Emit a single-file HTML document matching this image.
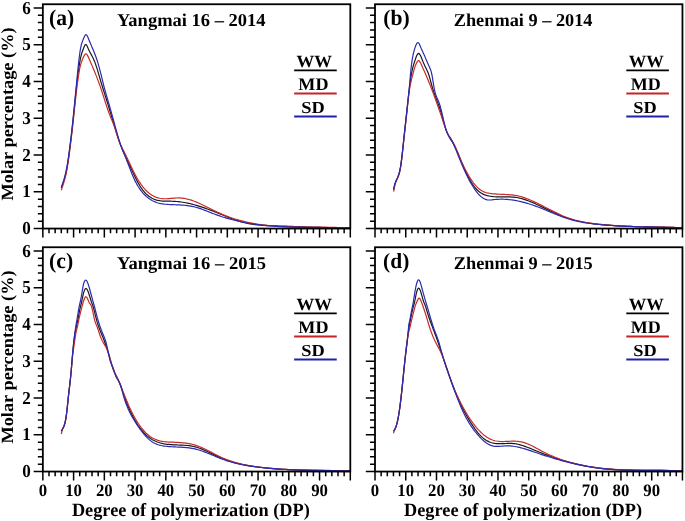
<!DOCTYPE html>
<html><head><meta charset="utf-8"><style>
html,body{margin:0;padding:0;background:#fff;}
svg{display:block;will-change:transform;}
text{font-family:"Liberation Serif", serif;font-weight:bold;fill:#000;text-rendering:geometricPrecision;}
</style></head><body>
<svg width="685" height="521" viewBox="0 0 685 521">
<rect width="685" height="521" fill="#fff"/>
<g><path d="M61.30,188.02 62.07,185.90 62.83,183.79 63.60,181.57 64.37,179.14 65.14,176.40 65.91,173.24 66.68,169.57 67.45,165.27 68.21,160.30 68.98,154.77 69.75,148.86 70.52,142.73 71.29,136.48 72.06,129.91 72.83,122.81 73.59,115.32 74.36,107.62 75.13,99.91 75.90,92.38 76.67,85.24 77.44,78.65 78.21,72.62 78.98,67.15 79.74,62.29 80.51,58.22 81.28,55.02 82.05,52.45 82.82,50.27 83.59,48.21 84.36,46.29 85.12,44.88 85.89,44.42 86.66,45.16 87.43,46.72 88.20,48.55 88.97,50.25 89.74,51.80 90.50,53.25 91.27,54.66 92.04,56.08 92.81,57.57 93.58,59.16 94.35,60.92 95.12,62.90 95.89,65.08 96.65,67.43 97.42,69.91 98.19,72.49 98.96,75.13 99.73,77.78 100.50,80.42 101.27,83.00 102.03,85.53 102.80,88.02 103.57,90.47 104.34,92.91 105.11,95.34 105.88,97.77 106.65,100.20 107.41,102.66 108.18,105.16 108.95,107.69 109.72,110.25 110.49,112.84 111.26,115.44 112.03,118.04 112.79,120.65 113.56,123.24 114.33,125.81 115.10,128.35 115.87,130.86 116.64,133.31 117.41,135.72 118.18,138.05 118.94,140.32 119.71,142.50 120.48,144.60 121.25,146.61 122.02,148.55 122.79,150.42 123.56,152.22 124.32,153.98 125.09,155.69 125.86,157.37 126.63,159.01 127.40,160.64 128.17,162.25 128.94,163.86 129.70,165.48 130.47,167.11 131.24,168.75 132.01,170.39 132.78,172.04 133.55,173.68 134.32,175.30 135.09,176.90 136.62,179.99 138.16,182.90 139.70,185.57 141.23,187.96 142.77,190.09 144.31,191.97 145.85,193.62 147.38,195.06 148.92,196.30 150.46,197.35 151.99,198.24 153.53,198.97 155.07,199.58 156.61,200.06 158.14,200.43 159.68,200.71 161.22,200.92 162.76,201.05 164.29,201.13 165.83,201.18 167.37,201.19 168.90,201.20 170.44,201.21 171.98,201.23 173.52,201.29 175.05,201.37 176.59,201.49 178.13,201.63 179.67,201.80 181.20,202.01 182.74,202.24 184.28,202.49 185.81,202.77 187.35,203.08 188.89,203.41 190.43,203.76 191.96,204.14 193.50,204.54 195.04,204.96 196.57,205.39 198.11,205.85 199.65,206.33 201.19,206.82 202.72,207.33 204.26,207.85 205.80,208.39 207.34,208.95 208.87,209.51 210.41,210.09 211.95,210.68 213.48,211.28 215.02,211.89 216.56,212.51 218.10,213.14 219.63,213.77 221.17,214.40 222.71,215.03 224.25,215.66 225.78,216.29 227.32,216.91 230.39,218.12 233.47,219.27 236.54,220.36 239.62,221.35 242.69,222.25 245.77,223.02 248.84,223.66 251.92,224.18 254.99,224.61 258.06,224.94 261.14,225.20 264.21,225.39 267.29,225.55 270.36,225.67 273.44,225.77 276.51,225.88 279.59,225.98 282.66,226.10 285.74,226.21 288.81,226.33 291.88,226.45 294.96,226.57 298.03,226.69 301.11,226.80 304.18,226.92 307.26,227.04 310.33,227.15 313.41,227.26 316.48,227.36 319.56,227.46 322.63,227.55 325.70,227.63 328.78,227.70 331.85,227.77 334.93,227.82 338.00,227.87 341.08,227.90 344.15,227.92 347.23,227.93 350.30,227.92" fill="none" stroke="#1a1a1a" stroke-width="1.2" stroke-linejoin="round"/>
<path d="M61.30,190.23 62.07,187.91 62.83,185.60 63.60,183.20 64.37,180.61 65.14,177.75 65.91,174.51 66.68,170.80 67.45,166.53 68.21,161.65 68.98,156.22 69.75,150.39 70.52,144.27 71.29,137.95 72.06,131.38 72.83,124.50 73.59,117.42 74.36,110.25 75.13,103.13 75.90,96.18 76.67,89.53 77.44,83.31 78.21,77.64 78.98,72.66 79.74,68.48 80.51,65.19 81.28,62.59 82.05,60.47 82.82,58.59 83.59,56.82 84.36,55.29 85.12,54.20 85.89,53.78 86.66,54.19 87.43,55.30 88.20,56.86 88.97,58.58 89.74,60.33 90.50,62.08 91.27,63.84 92.04,65.62 92.81,67.42 93.58,69.25 94.35,71.10 95.12,72.98 95.89,74.90 96.65,76.85 97.42,78.85 98.19,80.89 98.96,82.98 99.73,85.13 100.50,87.34 101.27,89.60 102.03,91.93 102.80,94.29 103.57,96.69 104.34,99.09 105.11,101.49 105.88,103.87 106.65,106.21 107.41,108.50 108.18,110.72 108.95,112.86 109.72,114.90 110.49,116.83 111.26,118.67 112.03,120.47 112.79,122.30 113.56,124.21 114.33,126.27 115.10,128.52 115.87,130.97 116.64,133.52 117.41,136.09 118.18,138.60 118.94,140.93 119.71,143.01 120.48,144.78 121.25,146.30 122.02,147.72 122.79,149.16 123.56,150.65 124.32,152.17 125.09,153.73 125.86,155.32 126.63,156.93 127.40,158.55 128.17,160.19 128.94,161.83 129.70,163.48 130.47,165.12 131.24,166.75 132.01,168.36 132.78,169.95 133.55,171.51 134.32,173.04 135.09,174.54 136.62,177.38 138.16,180.02 139.70,182.45 141.23,184.68 142.77,186.71 144.31,188.55 145.85,190.22 147.38,191.71 148.92,193.04 150.46,194.20 151.99,195.22 153.53,196.09 155.07,196.82 156.61,197.42 158.14,197.90 159.68,198.26 161.22,198.52 162.76,198.67 164.29,198.74 165.83,198.74 167.37,198.68 168.90,198.58 170.44,198.46 171.98,198.32 173.52,198.19 175.05,198.07 176.59,197.98 178.13,197.94 179.67,197.96 181.20,198.05 182.74,198.21 184.28,198.43 185.81,198.72 187.35,199.07 188.89,199.47 190.43,199.92 191.96,200.42 193.50,200.97 195.04,201.55 196.57,202.17 198.11,202.82 199.65,203.50 201.19,204.21 202.72,204.93 204.26,205.67 205.80,206.43 207.34,207.19 208.87,207.96 210.41,208.73 211.95,209.50 213.48,210.26 215.02,211.01 216.56,211.75 218.10,212.47 219.63,213.17 221.17,213.85 222.71,214.51 224.25,215.14 225.78,215.75 227.32,216.34 230.39,217.45 233.47,218.49 236.54,219.45 239.62,220.33 242.69,221.14 245.77,221.89 248.84,222.56 251.92,223.18 254.99,223.74 258.06,224.24 261.14,224.68 264.21,225.08 267.29,225.43 270.36,225.73 273.44,226.00 276.51,226.23 279.59,226.42 282.66,226.58 285.74,226.71 288.81,226.81 291.88,226.90 294.96,226.96 298.03,227.01 301.11,227.04 304.18,227.06 307.26,227.08 310.33,227.09 313.41,227.10 316.48,227.12 319.56,227.13 322.63,227.16 325.70,227.20 328.78,227.25 331.85,227.32 334.93,227.41 338.00,227.52 341.08,227.66 344.15,227.82 347.23,228.02 350.30,228.26" fill="none" stroke="#c82a2a" stroke-width="1.2" stroke-linejoin="round"/>
<path d="M61.30,187.18 62.07,185.10 62.83,182.92 63.60,180.57 64.37,177.96 65.14,175.04 65.91,171.72 66.68,167.94 67.45,163.62 68.21,158.72 68.98,153.30 69.75,147.47 70.52,141.31 71.29,134.90 72.06,128.17 72.83,121.06 73.59,113.63 74.36,105.94 75.13,98.07 75.90,90.10 76.67,82.09 77.44,74.15 78.21,66.54 78.98,59.56 79.74,53.48 80.51,48.60 81.28,45.03 82.05,42.43 82.82,40.39 83.59,38.50 84.36,36.67 85.12,35.24 85.89,34.61 86.66,35.02 87.43,36.27 88.20,38.02 88.97,39.92 89.74,41.77 90.50,43.58 91.27,45.38 92.04,47.17 92.81,48.98 93.58,50.83 94.35,52.74 95.12,54.73 95.89,56.82 96.65,59.02 97.42,61.36 98.19,63.87 98.96,66.55 99.73,69.40 100.50,72.39 101.27,75.46 102.03,78.59 102.80,81.71 103.57,84.79 104.34,87.79 105.11,90.66 105.88,93.43 106.65,96.12 107.41,98.76 108.18,101.38 108.95,104.02 109.72,106.69 110.49,109.39 111.26,112.12 112.03,114.88 112.79,117.66 113.56,120.46 114.33,123.26 115.10,126.06 115.87,128.86 116.64,131.64 117.41,134.39 118.18,137.07 118.94,139.68 119.71,142.18 120.48,144.56 121.25,146.80 122.02,148.86 122.79,150.76 123.56,152.54 124.32,154.30 125.09,156.13 125.86,158.03 126.63,159.98 127.40,161.97 128.17,163.99 128.94,166.02 129.70,168.04 130.47,170.05 131.24,172.02 132.01,173.95 132.78,175.81 133.55,177.59 134.32,179.28 135.09,180.89 136.62,183.84 138.16,186.48 139.70,188.83 141.23,190.93 142.77,192.81 144.31,194.49 145.85,196.00 147.38,197.34 148.92,198.52 150.46,199.57 151.99,200.47 153.53,201.26 155.07,201.93 156.61,202.49 158.14,202.96 159.68,203.35 161.22,203.66 162.76,203.91 164.29,204.11 165.83,204.26 167.37,204.38 168.90,204.48 170.44,204.56 171.98,204.63 173.52,204.70 175.05,204.76 176.59,204.82 178.13,204.89 179.67,204.96 181.20,205.05 182.74,205.15 184.28,205.27 185.81,205.42 187.35,205.60 188.89,205.80 190.43,206.05 191.96,206.33 193.50,206.66 195.04,207.03 196.57,207.45 198.11,207.91 199.65,208.41 201.19,208.94 202.72,209.49 204.26,210.07 205.80,210.66 207.34,211.27 208.87,211.88 210.41,212.49 211.95,213.10 213.48,213.70 215.02,214.29 216.56,214.86 218.10,215.41 219.63,215.94 221.17,216.46 222.71,216.96 224.25,217.45 225.78,217.92 227.32,218.37 230.39,219.24 233.47,220.04 236.54,220.79 239.62,221.48 242.69,222.13 245.77,222.72 248.84,223.26 251.92,223.76 254.99,224.21 258.06,224.63 261.14,225.00 264.21,225.33 267.29,225.63 270.36,225.90 273.44,226.14 276.51,226.35 279.59,226.53 282.66,226.68 285.74,226.82 288.81,226.93 291.88,227.03 294.96,227.11 298.03,227.18 301.11,227.23 304.18,227.28 307.26,227.32 310.33,227.35 313.41,227.39 316.48,227.42 319.56,227.45 322.63,227.48 325.70,227.52 328.78,227.57 331.85,227.63 334.93,227.70 338.00,227.79 341.08,227.89 344.15,228.01 347.23,228.15 350.30,228.32" fill="none" stroke="#2a2ab4" stroke-width="1.2" stroke-linejoin="round"/>
<rect x="42.85" y="4.25" width="307.45" height="224.30" fill="none" stroke="#000" stroke-width="1.8"/>
<path d="M33.65,228.55H42.85M37.85,221.20H42.85M37.85,213.84H42.85M37.85,206.49H42.85M37.85,199.13H42.85M33.65,191.78H42.85M37.85,184.42H42.85M37.85,177.06H42.85M37.85,169.71H42.85M37.85,162.36H42.85M33.65,155.00H42.85M37.85,147.65H42.85M37.85,140.29H42.85M37.85,132.94H42.85M37.85,125.58H42.85M33.65,118.23H42.85M37.85,110.87H42.85M37.85,103.52H42.85M37.85,96.16H42.85M37.85,88.81H42.85M33.65,81.45H42.85M37.85,74.09H42.85M37.85,66.74H42.85M37.85,59.38H42.85M37.85,52.03H42.85M33.65,44.68H42.85M37.85,37.32H42.85M37.85,29.97H42.85M37.85,22.61H42.85M37.85,15.25H42.85M33.65,7.90H42.85M42.85,228.55V237.55M49.00,228.55V233.15M55.15,228.55V233.15M61.30,228.55V233.15M67.45,228.55V233.15M73.59,228.55V237.55M79.74,228.55V233.15M85.89,228.55V233.15M92.04,228.55V233.15M98.19,228.55V233.15M104.34,228.55V237.55M110.49,228.55V233.15M116.64,228.55V233.15M122.79,228.55V233.15M128.94,228.55V233.15M135.09,228.55V237.55M141.23,228.55V233.15M147.38,228.55V233.15M153.53,228.55V233.15M159.68,228.55V233.15M165.83,228.55V237.55M171.98,228.55V233.15M178.13,228.55V233.15M184.28,228.55V233.15M190.43,228.55V233.15M196.57,228.55V237.55M202.72,228.55V233.15M208.87,228.55V233.15M215.02,228.55V233.15M221.17,228.55V233.15M227.32,228.55V237.55M233.47,228.55V233.15M239.62,228.55V233.15M245.77,228.55V233.15M251.92,228.55V233.15M258.06,228.55V237.55M264.21,228.55V233.15M270.36,228.55V233.15M276.51,228.55V233.15M282.66,228.55V233.15M288.81,228.55V237.55M294.96,228.55V233.15M301.11,228.55V233.15M307.26,228.55V233.15M313.41,228.55V233.15M319.56,228.55V237.55M325.70,228.55V233.15M331.85,228.55V233.15M338.00,228.55V233.15M344.15,228.55V233.15M350.30,228.55V237.55" stroke="#000" stroke-width="1.5" fill="none"/>
<path d="M294.15,70.40H336.75" stroke="#000000" stroke-width="1.9"/>
<path d="M294.15,93.50H336.75" stroke="#c42424" stroke-width="1.9"/>
<path d="M294.15,116.50H336.75" stroke="#2020a8" stroke-width="1.9"/></g>
<g><path d="M393.60,189.54 394.37,186.03 395.14,183.37 395.91,181.31 396.68,179.58 397.44,177.94 398.21,176.10 398.98,173.83 399.75,170.86 400.52,166.92 401.29,161.79 402.06,155.59 402.82,148.66 403.59,141.37 404.36,134.08 405.13,126.89 405.90,119.77 406.67,112.65 407.44,105.51 408.20,98.50 408.97,91.78 409.74,85.52 410.51,79.88 411.28,74.94 412.05,70.80 412.82,67.53 413.58,64.95 414.35,62.52 415.12,60.08 415.89,57.80 416.66,55.84 417.43,54.36 418.20,53.52 418.97,53.47 419.73,54.22 420.50,55.56 421.27,57.31 422.04,59.26 422.81,61.21 423.58,63.04 424.35,64.75 425.11,66.38 425.88,67.95 426.65,69.52 427.42,71.17 428.19,73.04 428.96,75.24 429.73,77.79 430.49,80.59 431.26,83.49 432.03,86.35 432.80,89.03 433.57,91.48 434.34,93.75 435.11,95.87 435.88,97.90 436.64,99.88 437.41,101.86 438.18,103.87 438.95,105.97 439.72,108.19 440.49,110.59 441.26,113.19 442.02,115.93 442.79,118.75 443.56,121.58 444.33,124.33 445.10,126.94 445.87,129.33 446.64,131.45 447.40,133.33 448.17,135.00 448.94,136.50 449.71,137.87 450.48,139.14 451.25,140.35 452.02,141.54 452.78,142.75 453.55,144.01 454.32,145.36 455.09,146.83 455.86,148.43 456.63,150.13 457.40,151.91 458.17,153.75 458.93,155.64 459.70,157.56 460.47,159.48 461.24,161.39 462.01,163.26 462.78,165.10 463.55,166.90 464.31,168.66 465.08,170.37 465.85,172.03 466.62,173.64 467.24,174.90 468.77,177.89 470.31,180.66 471.85,183.20 473.38,185.48 474.92,187.49 476.46,189.23 478.00,190.72 479.53,191.98 481.07,193.03 482.61,193.89 484.14,194.59 485.68,195.15 487.22,195.60 488.76,195.95 490.29,196.22 491.83,196.44 493.37,196.61 494.91,196.73 496.44,196.81 497.98,196.87 499.52,196.89 501.05,196.90 502.59,196.90 504.13,196.90 505.67,196.90 507.20,196.90 508.74,196.93 510.28,196.97 511.82,197.05 513.35,197.16 514.89,197.31 516.43,197.52 517.96,197.78 519.50,198.09 521.04,198.46 522.58,198.88 524.11,199.34 525.65,199.85 527.19,200.39 528.73,200.97 530.26,201.58 531.80,202.22 533.34,202.88 534.87,203.56 536.41,204.26 537.95,204.97 539.49,205.70 541.02,206.43 542.56,207.16 544.10,207.90 545.63,208.64 547.17,209.37 548.71,210.11 550.25,210.84 551.78,211.56 553.32,212.27 554.86,212.97 556.40,213.66 557.93,214.33 559.47,214.99 562.54,216.24 565.62,217.40 568.69,218.45 571.77,219.40 574.84,220.24 577.92,221.00 580.99,221.67 584.07,222.27 587.14,222.80 590.22,223.27 593.29,223.69 596.36,224.06 599.44,224.39 602.51,224.69 605.59,224.97 608.66,225.22 611.74,225.45 614.81,225.65 617.89,225.84 620.96,226.00 624.03,226.15 627.11,226.28 630.18,226.40 633.26,226.50 636.33,226.59 639.41,226.68 642.48,226.75 645.56,226.82 648.63,226.88 651.70,226.94 654.78,227.00 657.85,227.06 660.93,227.12 664.00,227.19 667.08,227.25 670.15,227.33 673.23,227.41 676.30,227.50 679.38,227.60 682.45,227.72" fill="none" stroke="#1a1a1a" stroke-width="1.2" stroke-linejoin="round"/>
<path d="M393.60,191.54 394.37,187.27 395.14,184.14 395.91,181.82 396.68,180.03 397.44,178.43 398.21,176.73 398.98,174.61 399.75,171.77 400.52,167.88 401.29,162.68 402.06,156.32 402.82,149.27 403.59,141.98 404.36,134.89 405.13,128.07 405.90,121.28 406.67,114.27 407.44,106.94 408.20,99.71 408.97,93.18 409.74,87.93 410.51,84.00 411.28,80.36 412.05,77.19 412.82,74.55 413.58,71.61 414.35,68.62 415.12,66.34 415.89,64.53 416.66,62.87 417.43,61.51 418.20,60.70 418.97,60.68 419.73,61.47 420.50,62.83 421.27,64.49 422.04,66.21 422.81,67.92 423.58,69.64 424.35,71.36 425.11,73.10 425.88,74.86 426.65,76.64 427.42,78.47 428.19,80.32 428.96,82.21 429.73,84.13 430.49,86.08 431.26,88.05 432.03,90.06 432.80,92.09 433.57,94.15 434.34,96.23 435.11,98.34 435.88,100.46 436.64,102.61 437.41,104.79 438.18,106.98 438.95,109.19 439.72,111.41 440.49,113.66 441.26,115.92 442.02,118.19 442.79,120.48 443.56,122.78 444.33,125.08 445.10,127.35 445.87,129.52 446.64,131.55 447.40,133.39 448.17,134.98 448.94,136.30 449.71,137.44 450.48,138.47 451.25,139.49 452.02,140.58 452.78,141.84 453.55,143.24 454.32,144.78 455.09,146.43 455.86,148.16 456.63,149.97 457.40,151.81 458.17,153.68 458.93,155.54 459.70,157.38 460.47,159.18 461.24,160.94 462.01,162.65 462.78,164.32 463.55,165.95 464.31,167.54 465.08,169.08 465.85,170.57 466.62,172.02 467.24,173.15 468.77,175.84 470.31,178.34 471.85,180.65 473.38,182.77 474.92,184.69 476.46,186.41 478.00,187.93 479.53,189.24 481.07,190.35 482.61,191.24 484.14,191.93 485.68,192.47 487.22,192.88 488.76,193.20 490.29,193.45 491.83,193.66 493.37,193.83 494.91,193.97 496.44,194.08 497.98,194.17 499.52,194.25 501.05,194.31 502.59,194.37 504.13,194.43 505.67,194.49 507.20,194.57 508.74,194.66 510.28,194.78 511.82,194.93 513.35,195.11 514.89,195.33 516.43,195.59 517.96,195.91 519.50,196.28 521.04,196.69 522.58,197.15 524.11,197.65 525.65,198.19 527.19,198.77 528.73,199.38 530.26,200.02 531.80,200.68 533.34,201.38 534.87,202.09 536.41,202.82 537.95,203.58 539.49,204.34 541.02,205.11 542.56,205.90 544.10,206.68 545.63,207.47 547.17,208.27 548.71,209.06 550.25,209.85 551.78,210.63 553.32,211.40 554.86,212.16 556.40,212.91 557.93,213.64 559.47,214.35 562.54,215.71 565.62,216.97 568.69,218.11 571.77,219.12 574.84,220.03 577.92,220.84 580.99,221.55 584.07,222.17 587.14,222.72 590.22,223.21 593.29,223.63 596.36,224.01 599.44,224.35 602.51,224.66 605.59,224.94 608.66,225.19 611.74,225.42 614.81,225.63 617.89,225.81 620.96,225.98 624.03,226.13 627.11,226.26 630.18,226.38 633.26,226.48 636.33,226.58 639.41,226.66 642.48,226.74 645.56,226.80 648.63,226.87 651.70,226.93 654.78,226.99 657.85,227.05 660.93,227.11 664.00,227.18 667.08,227.25 670.15,227.32 673.23,227.41 676.30,227.50 679.38,227.61 682.45,227.73" fill="none" stroke="#c82a2a" stroke-width="1.2" stroke-linejoin="round"/>
<path d="M393.60,189.59 394.37,185.98 395.14,183.28 395.91,181.21 396.68,179.52 397.44,177.91 398.21,176.13 398.98,173.90 399.75,170.95 400.52,167.00 401.29,161.83 402.06,155.55 402.82,148.56 403.59,141.25 404.36,134.01 405.13,126.92 405.90,119.88 406.67,112.78 407.44,105.56 408.20,98.45 408.97,91.26 409.74,82.87 410.51,73.97 411.28,66.42 412.05,60.58 412.82,56.13 413.58,52.69 414.35,49.88 415.12,47.39 415.89,45.28 416.66,43.68 417.43,42.73 418.20,42.58 418.97,43.35 419.73,44.90 420.50,46.79 421.27,48.61 422.04,50.33 422.81,51.99 423.58,53.65 424.35,55.36 425.11,57.12 425.88,58.90 426.65,60.70 427.42,62.49 428.19,64.27 428.96,66.03 429.73,67.73 430.49,69.54 431.26,71.88 432.03,75.25 432.80,79.80 433.57,84.74 434.34,89.14 435.11,92.49 435.88,95.02 436.64,97.02 437.41,98.76 438.18,100.54 438.95,102.53 439.72,104.78 440.49,107.30 441.26,110.13 442.02,113.27 442.79,116.61 443.56,120.01 444.33,123.31 445.10,126.39 445.87,129.10 446.64,131.31 447.40,133.07 448.17,134.51 448.94,135.75 449.71,136.90 450.48,138.10 451.25,139.43 452.02,140.89 452.78,142.47 453.55,144.15 454.32,145.92 455.09,147.75 455.86,149.63 456.63,151.54 457.40,153.48 458.17,155.42 458.93,157.34 459.70,159.24 460.47,161.12 461.24,162.96 462.01,164.77 462.78,166.55 463.55,168.30 464.31,170.02 465.08,171.70 465.85,173.34 466.62,174.95 467.24,176.20 468.77,179.23 470.31,182.10 471.85,184.78 473.38,187.29 474.92,189.59 476.46,191.69 478.00,193.57 479.53,195.23 481.07,196.65 482.61,197.84 484.14,198.76 485.68,199.43 487.22,199.83 488.76,199.99 490.29,199.98 491.83,199.86 493.37,199.68 494.91,199.52 496.44,199.39 497.98,199.29 499.52,199.24 501.05,199.21 502.59,199.22 504.13,199.27 505.67,199.34 507.20,199.45 508.74,199.59 510.28,199.75 511.82,199.95 513.35,200.17 514.89,200.42 516.43,200.70 517.96,201.00 519.50,201.33 521.04,201.68 522.58,202.06 524.11,202.45 525.65,202.88 527.19,203.32 528.73,203.78 530.26,204.27 531.80,204.77 533.34,205.29 534.87,205.83 536.41,206.39 537.95,206.97 539.49,207.56 541.02,208.16 542.56,208.78 544.10,209.41 545.63,210.05 547.17,210.70 548.71,211.34 550.25,211.99 551.78,212.64 553.32,213.28 554.86,213.92 556.40,214.55 557.93,215.16 559.47,215.77 562.54,216.93 565.62,218.01 568.69,218.99 571.77,219.87 574.84,220.66 577.92,221.36 580.99,221.99 584.07,222.54 587.14,223.03 590.22,223.47 593.29,223.86 596.36,224.20 599.44,224.52 602.51,224.80 605.59,225.06 608.66,225.30 611.74,225.52 614.81,225.72 617.89,225.90 620.96,226.06 624.03,226.21 627.11,226.34 630.18,226.46 633.26,226.56 636.33,226.66 639.41,226.75 642.48,226.83 645.56,226.90 648.63,226.97 651.70,227.04 654.78,227.10 657.85,227.16 660.93,227.23 664.00,227.29 667.08,227.36 670.15,227.43 673.23,227.51 676.30,227.60 679.38,227.69 682.45,227.80" fill="none" stroke="#2a2ab4" stroke-width="1.2" stroke-linejoin="round"/>
<rect x="375.00" y="4.25" width="307.45" height="224.30" fill="none" stroke="#000" stroke-width="1.8"/>
<path d="M365.80,228.55H375.00M370.00,221.20H375.00M370.00,213.84H375.00M370.00,206.49H375.00M370.00,199.13H375.00M365.80,191.78H375.00M370.00,184.42H375.00M370.00,177.06H375.00M370.00,169.71H375.00M370.00,162.36H375.00M365.80,155.00H375.00M370.00,147.65H375.00M370.00,140.29H375.00M370.00,132.94H375.00M370.00,125.58H375.00M365.80,118.23H375.00M370.00,110.87H375.00M370.00,103.52H375.00M370.00,96.16H375.00M370.00,88.81H375.00M365.80,81.45H375.00M370.00,74.09H375.00M370.00,66.74H375.00M370.00,59.38H375.00M370.00,52.03H375.00M365.80,44.68H375.00M370.00,37.32H375.00M370.00,29.97H375.00M370.00,22.61H375.00M370.00,15.25H375.00M365.80,7.90H375.00M375.00,228.55V237.55M381.15,228.55V233.15M387.30,228.55V233.15M393.45,228.55V233.15M399.60,228.55V233.15M405.75,228.55V237.55M411.89,228.55V233.15M418.04,228.55V233.15M424.19,228.55V233.15M430.34,228.55V233.15M436.49,228.55V237.55M442.64,228.55V233.15M448.79,228.55V233.15M454.94,228.55V233.15M461.09,228.55V233.15M467.24,228.55V237.55M473.38,228.55V233.15M479.53,228.55V233.15M485.68,228.55V233.15M491.83,228.55V233.15M497.98,228.55V237.55M504.13,228.55V233.15M510.28,228.55V233.15M516.43,228.55V233.15M522.58,228.55V233.15M528.73,228.55V237.55M534.87,228.55V233.15M541.02,228.55V233.15M547.17,228.55V233.15M553.32,228.55V233.15M559.47,228.55V237.55M565.62,228.55V233.15M571.77,228.55V233.15M577.92,228.55V233.15M584.07,228.55V233.15M590.22,228.55V237.55M596.36,228.55V233.15M602.51,228.55V233.15M608.66,228.55V233.15M614.81,228.55V233.15M620.96,228.55V237.55M627.11,228.55V233.15M633.26,228.55V233.15M639.41,228.55V233.15M645.56,228.55V233.15M651.70,228.55V237.55M657.85,228.55V233.15M664.00,228.55V233.15M670.15,228.55V233.15M676.30,228.55V233.15M682.45,228.55V237.55" stroke="#000" stroke-width="1.5" fill="none"/>
<path d="M626.30,70.40H668.90" stroke="#000000" stroke-width="1.9"/>
<path d="M626.30,93.50H668.90" stroke="#c42424" stroke-width="1.9"/>
<path d="M626.30,116.50H668.90" stroke="#2020a8" stroke-width="1.9"/></g>
<g><path d="M61.30,431.19 62.07,429.78 62.83,428.53 63.60,427.10 64.37,425.14 65.14,422.31 65.91,418.29 66.68,412.72 67.45,405.80 68.21,398.46 68.98,391.54 69.75,384.93 70.52,377.96 71.29,370.01 72.06,360.58 72.83,351.31 73.59,343.69 74.36,337.65 75.13,332.86 75.90,328.94 76.67,325.45 77.44,321.95 78.21,318.04 78.98,313.83 79.74,309.81 80.51,306.44 81.28,303.53 82.05,299.89 82.82,296.07 83.59,292.91 84.36,290.57 85.12,289.09 85.89,288.52 86.66,288.87 87.43,290.00 88.20,291.76 88.97,293.96 89.74,296.45 90.50,299.03 91.27,301.48 92.04,303.63 92.81,305.66 93.58,308.16 94.35,311.14 95.12,314.33 95.89,317.47 96.65,320.35 97.42,322.94 98.19,325.30 98.96,327.47 99.73,329.50 100.50,331.43 101.27,333.30 102.03,335.17 102.80,337.07 103.57,339.03 104.34,341.07 105.11,343.18 105.88,345.39 106.65,347.69 107.41,350.10 108.18,352.63 108.95,355.28 109.72,358.00 110.49,360.73 111.26,363.39 112.03,365.92 112.79,368.26 113.56,370.34 114.33,372.14 115.10,373.75 115.87,375.24 116.64,376.70 117.41,378.19 118.18,379.81 118.94,381.61 119.71,383.57 120.48,385.64 121.25,387.81 122.02,390.02 122.79,392.25 123.56,394.45 124.32,396.61 125.09,398.70 125.86,400.73 126.63,402.70 127.40,404.60 128.17,406.45 128.94,408.24 129.70,409.97 130.47,411.65 131.24,413.27 132.01,414.83 132.78,416.34 133.55,417.80 134.32,419.21 135.09,420.57 136.62,423.13 138.16,425.50 139.70,427.69 141.23,429.69 142.77,431.53 144.31,433.21 145.85,434.73 147.38,436.10 148.92,437.34 150.46,438.45 151.99,439.43 153.53,440.30 155.07,441.06 156.61,441.72 158.14,442.29 159.68,442.79 161.22,443.20 162.76,443.56 164.29,443.85 165.83,444.10 167.37,444.30 168.90,444.47 170.44,444.61 171.98,444.71 173.52,444.80 175.05,444.87 176.59,444.93 178.13,444.99 179.67,445.04 181.20,445.10 182.74,445.18 184.28,445.27 185.81,445.38 187.35,445.52 188.89,445.70 190.43,445.91 191.96,446.17 193.50,446.48 195.04,446.84 196.57,447.26 198.11,447.74 199.65,448.26 201.19,448.83 202.72,449.45 204.26,450.09 205.80,450.77 207.34,451.46 208.87,452.18 210.41,452.91 211.95,453.65 213.48,454.40 215.02,455.14 216.56,455.87 218.10,456.59 219.63,457.29 221.17,457.97 222.71,458.62 224.25,459.24 225.78,459.83 227.32,460.39 230.39,461.42 233.47,462.35 236.54,463.18 239.62,463.92 242.69,464.59 245.77,465.18 248.84,465.71 251.92,466.19 254.99,466.63 258.06,467.03 261.14,467.40 264.21,467.74 267.29,468.05 270.36,468.34 273.44,468.60 276.51,468.84 279.59,469.05 282.66,469.24 285.74,469.42 288.81,469.57 291.88,469.71 294.96,469.83 298.03,469.94 301.11,470.04 304.18,470.12 307.26,470.20 310.33,470.26 313.41,470.32 316.48,470.37 319.56,470.42 322.63,470.47 325.70,470.51 328.78,470.55 331.85,470.60 334.93,470.64 338.00,470.69 341.08,470.75 344.15,470.81 347.23,470.88 350.30,470.96" fill="none" stroke="#1a1a1a" stroke-width="1.2" stroke-linejoin="round"/>
<path d="M61.30,433.99 62.07,430.87 62.83,428.64 63.60,426.79 64.37,424.80 65.14,422.16 65.91,418.36 66.68,412.90 67.45,405.90 68.21,398.42 68.98,391.43 69.75,384.80 70.52,377.84 71.29,369.88 72.06,360.52 72.83,353.27 73.59,348.56 74.36,343.38 75.13,337.80 75.90,333.01 76.67,329.61 77.44,326.54 78.21,322.78 78.98,318.97 79.74,315.61 80.51,312.45 81.28,309.33 82.05,306.31 82.82,303.48 83.59,300.95 84.36,298.82 85.12,297.31 85.89,296.68 86.66,297.16 87.43,298.51 88.20,300.31 88.97,302.09 89.74,303.43 90.50,304.46 91.27,305.78 92.04,308.03 92.81,311.51 93.58,315.51 94.35,319.08 95.12,321.78 95.89,323.89 96.65,325.73 97.42,327.64 98.19,329.83 98.96,332.19 99.73,334.54 100.50,336.74 101.27,338.66 102.03,340.32 102.80,341.79 103.57,343.13 104.34,344.42 105.11,345.70 105.88,347.06 106.65,348.55 107.41,350.24 108.18,352.19 108.95,354.47 109.72,357.06 110.49,359.83 111.26,362.63 112.03,365.35 112.79,367.84 113.56,369.96 114.33,371.69 115.10,373.20 115.87,374.70 116.64,376.28 117.41,377.94 118.18,379.66 118.94,381.43 119.71,383.26 120.48,385.12 121.25,387.02 122.02,388.93 122.79,390.87 123.56,392.81 124.32,394.75 125.09,396.68 125.86,398.60 126.63,400.48 127.40,402.34 128.17,404.15 128.94,405.91 129.70,407.62 130.47,409.28 131.24,410.90 132.01,412.46 132.78,413.97 133.55,415.44 134.32,416.86 135.09,418.23 136.62,420.84 138.16,423.27 139.70,425.52 141.23,427.60 142.77,429.50 144.31,431.25 145.85,432.83 147.38,434.26 148.92,435.54 150.46,436.67 151.99,437.65 153.53,438.51 155.07,439.24 156.61,439.86 158.14,440.38 159.68,440.81 161.22,441.16 162.76,441.43 164.29,441.65 165.83,441.81 167.37,441.94 168.90,442.03 170.44,442.10 171.98,442.16 173.52,442.22 175.05,442.28 176.59,442.35 178.13,442.43 179.67,442.53 181.20,442.64 182.74,442.78 184.28,442.94 185.81,443.13 187.35,443.35 188.89,443.62 190.43,443.92 191.96,444.27 193.50,444.66 195.04,445.11 196.57,445.62 198.11,446.17 199.65,446.77 201.19,447.42 202.72,448.10 204.26,448.81 205.80,449.54 207.34,450.30 208.87,451.07 210.41,451.86 211.95,452.65 213.48,453.44 215.02,454.23 216.56,455.01 218.10,455.77 219.63,456.52 221.17,457.24 222.71,457.93 224.25,458.59 225.78,459.22 227.32,459.82 230.39,460.92 233.47,461.92 236.54,462.82 239.62,463.63 242.69,464.35 245.77,465.00 248.84,465.58 251.92,466.10 254.99,466.57 258.06,467.01 261.14,467.40 264.21,467.76 267.29,468.09 270.36,468.39 273.44,468.65 276.51,468.89 279.59,469.11 282.66,469.30 285.74,469.46 288.81,469.61 291.88,469.74 294.96,469.85 298.03,469.94 301.11,470.02 304.18,470.09 307.26,470.15 310.33,470.21 313.41,470.25 316.48,470.29 319.56,470.33 322.63,470.37 325.70,470.41 328.78,470.45 331.85,470.50 334.93,470.55 338.00,470.61 341.08,470.68 344.15,470.77 347.23,470.86 350.30,470.98" fill="none" stroke="#c82a2a" stroke-width="1.2" stroke-linejoin="round"/>
<path d="M61.30,431.20 62.07,429.76 62.83,428.51 63.60,427.09 64.37,425.15 65.14,422.35 65.91,418.32 66.68,412.72 67.45,405.76 68.21,398.40 68.98,391.53 69.75,384.98 70.52,378.06 71.29,370.05 72.06,360.45 72.83,351.53 73.59,343.81 74.36,336.75 75.13,330.78 75.90,325.87 76.67,321.39 77.44,316.78 78.21,312.11 78.98,307.70 79.74,303.85 80.51,300.57 81.28,296.97 82.05,292.27 82.82,287.43 83.59,283.79 84.36,281.45 85.12,280.27 85.89,280.10 86.66,280.79 87.43,282.20 88.20,284.17 88.97,286.57 89.74,289.24 90.50,292.08 91.27,295.01 92.04,297.94 92.81,300.81 93.58,303.53 94.35,306.20 95.12,309.13 95.89,312.24 96.65,315.22 97.42,318.04 98.19,320.70 98.96,323.21 99.73,325.57 100.50,327.79 101.27,329.88 102.03,331.83 102.80,333.67 103.57,335.49 104.34,337.41 105.11,339.53 105.88,341.97 106.65,344.85 107.41,348.22 108.18,351.90 108.95,355.58 109.72,358.98 110.49,361.83 111.26,363.90 112.03,365.49 112.79,367.08 113.56,369.14 114.33,371.74 115.10,374.34 115.87,376.43 116.64,378.01 117.41,379.28 118.18,380.39 118.94,381.55 119.71,382.92 120.48,384.69 121.25,387.03 122.02,389.93 122.79,393.04 123.56,396.00 124.32,398.65 125.09,401.03 125.86,403.20 126.63,405.21 127.40,407.11 128.17,408.90 128.94,410.60 129.70,412.22 130.47,413.76 131.24,415.22 132.01,416.63 132.78,417.97 133.55,419.27 134.32,420.52 135.09,421.74 136.62,424.10 138.16,426.38 139.70,428.57 141.23,430.67 142.77,432.66 144.31,434.53 145.85,436.28 147.38,437.88 148.92,439.34 150.46,440.63 151.99,441.75 153.53,442.70 155.07,443.50 156.61,444.17 158.14,444.71 159.68,445.16 161.22,445.52 162.76,445.81 164.29,446.04 165.83,446.24 167.37,446.40 168.90,446.54 170.44,446.66 171.98,446.76 173.52,446.85 175.05,446.92 176.59,446.99 178.13,447.06 179.67,447.14 181.20,447.21 182.74,447.31 184.28,447.41 185.81,447.54 187.35,447.69 188.89,447.87 190.43,448.08 191.96,448.33 193.50,448.61 195.04,448.95 196.57,449.33 198.11,449.75 199.65,450.22 201.19,450.72 202.72,451.26 204.26,451.82 205.80,452.41 207.34,453.01 208.87,453.64 210.41,454.27 211.95,454.91 213.48,455.56 215.02,456.20 216.56,456.84 218.10,457.47 219.63,458.08 221.17,458.68 222.71,459.25 224.25,459.80 225.78,460.32 227.32,460.83 230.39,461.76 233.47,462.61 236.54,463.38 239.62,464.09 242.69,464.72 245.77,465.30 248.84,465.82 251.92,466.29 254.99,466.73 258.06,467.13 261.14,467.50 264.21,467.84 267.29,468.15 270.36,468.43 273.44,468.69 276.51,468.93 279.59,469.14 282.66,469.33 285.74,469.50 288.81,469.65 291.88,469.79 294.96,469.91 298.03,470.02 301.11,470.11 304.18,470.19 307.26,470.27 310.33,470.33 313.41,470.39 316.48,470.44 319.56,470.49 322.63,470.53 325.70,470.57 328.78,470.62 331.85,470.66 334.93,470.71 338.00,470.76 341.08,470.82 344.15,470.88 347.23,470.96 350.30,471.04" fill="none" stroke="#2a2ab4" stroke-width="1.2" stroke-linejoin="round"/>
<rect x="42.85" y="247.25" width="307.45" height="224.30" fill="none" stroke="#000" stroke-width="1.8"/>
<path d="M33.65,471.55H42.85M37.85,464.19H42.85M37.85,456.84H42.85M37.85,449.49H42.85M37.85,442.13H42.85M33.65,434.78H42.85M37.85,427.42H42.85M37.85,420.06H42.85M37.85,412.71H42.85M37.85,405.36H42.85M33.65,398.00H42.85M37.85,390.64H42.85M37.85,383.29H42.85M37.85,375.94H42.85M37.85,368.58H42.85M33.65,361.23H42.85M37.85,353.87H42.85M37.85,346.51H42.85M37.85,339.16H42.85M37.85,331.81H42.85M33.65,324.45H42.85M37.85,317.10H42.85M37.85,309.74H42.85M37.85,302.38H42.85M37.85,295.03H42.85M33.65,287.68H42.85M37.85,280.32H42.85M37.85,272.97H42.85M37.85,265.61H42.85M37.85,258.25H42.85M33.65,250.90H42.85M42.85,471.55V480.55M49.00,471.55V476.15M55.15,471.55V476.15M61.30,471.55V476.15M67.45,471.55V476.15M73.59,471.55V480.55M79.74,471.55V476.15M85.89,471.55V476.15M92.04,471.55V476.15M98.19,471.55V476.15M104.34,471.55V480.55M110.49,471.55V476.15M116.64,471.55V476.15M122.79,471.55V476.15M128.94,471.55V476.15M135.09,471.55V480.55M141.23,471.55V476.15M147.38,471.55V476.15M153.53,471.55V476.15M159.68,471.55V476.15M165.83,471.55V480.55M171.98,471.55V476.15M178.13,471.55V476.15M184.28,471.55V476.15M190.43,471.55V476.15M196.57,471.55V480.55M202.72,471.55V476.15M208.87,471.55V476.15M215.02,471.55V476.15M221.17,471.55V476.15M227.32,471.55V480.55M233.47,471.55V476.15M239.62,471.55V476.15M245.77,471.55V476.15M251.92,471.55V476.15M258.06,471.55V480.55M264.21,471.55V476.15M270.36,471.55V476.15M276.51,471.55V476.15M282.66,471.55V476.15M288.81,471.55V480.55M294.96,471.55V476.15M301.11,471.55V476.15M307.26,471.55V476.15M313.41,471.55V476.15M319.56,471.55V480.55M325.70,471.55V476.15M331.85,471.55V476.15M338.00,471.55V476.15M344.15,471.55V476.15M350.30,471.55V480.55" stroke="#000" stroke-width="1.5" fill="none"/>
<path d="M294.15,313.40H336.75" stroke="#000000" stroke-width="1.9"/>
<path d="M294.15,336.50H336.75" stroke="#c42424" stroke-width="1.9"/>
<path d="M294.15,359.50H336.75" stroke="#2020a8" stroke-width="1.9"/></g>
<g><path d="M393.45,430.95 394.22,430.43 394.98,429.28 395.75,427.50 396.52,425.09 397.29,422.04 398.06,418.35 398.83,414.00 399.60,409.01 400.36,403.36 401.13,397.05 401.90,390.07 402.67,382.51 403.44,374.69 404.21,366.98 404.98,359.71 405.75,352.92 406.51,346.50 407.28,340.34 408.05,334.35 408.82,328.73 409.59,324.09 410.36,320.20 411.13,316.42 411.89,312.75 412.66,309.30 413.43,306.22 414.20,303.54 414.97,300.18 415.74,296.12 416.51,292.60 417.27,290.02 418.04,288.49 418.81,288.13 419.58,288.93 420.35,290.65 421.12,293.01 421.89,295.71 422.65,298.49 423.42,301.05 424.19,303.11 424.96,304.77 425.73,306.83 426.50,309.52 427.27,312.14 428.04,314.64 428.80,317.02 429.57,319.29 430.34,321.47 431.11,323.58 431.88,325.64 432.65,327.66 433.42,329.66 434.18,331.66 434.95,333.68 435.72,335.74 436.49,337.85 437.26,340.01 438.03,342.21 438.80,344.44 439.56,346.71 440.33,349.00 441.10,351.31 441.87,353.65 442.64,355.99 443.41,358.34 444.18,360.70 444.94,363.05 445.71,365.40 446.48,367.74 447.25,370.05 448.02,372.35 448.79,374.63 449.56,376.87 450.33,379.07 451.09,381.24 451.86,383.36 452.63,385.43 453.40,387.46 454.17,389.43 454.94,391.35 455.71,393.22 456.47,395.05 457.24,396.84 458.01,398.58 458.78,400.28 459.55,401.95 460.32,403.57 461.09,405.16 461.85,406.72 462.62,408.24 463.39,409.74 464.16,411.20 464.93,412.63 465.70,414.04 466.47,415.42 467.24,416.78 468.77,419.42 470.31,421.96 471.85,424.38 473.38,426.69 474.92,428.87 476.46,430.91 478.00,432.81 479.53,434.57 481.07,436.16 482.61,437.60 484.14,438.86 485.68,439.95 487.22,440.86 488.76,441.62 490.29,442.24 491.83,442.73 493.37,443.10 494.91,443.36 496.44,443.54 497.98,443.65 499.52,443.69 501.05,443.68 502.59,443.64 504.13,443.58 505.67,443.52 507.20,443.45 508.74,443.41 510.28,443.40 511.82,443.44 513.35,443.54 514.89,443.72 516.43,443.96 517.96,444.27 519.50,444.64 521.04,445.07 522.58,445.54 524.11,446.06 525.65,446.61 527.19,447.19 528.73,447.80 530.26,448.42 531.80,449.06 533.34,449.70 534.87,450.34 536.41,450.97 537.95,451.59 539.49,452.21 541.02,452.81 542.56,453.41 544.10,453.99 545.63,454.57 547.17,455.13 548.71,455.69 550.25,456.24 551.78,456.78 553.32,457.30 554.86,457.82 556.40,458.33 557.93,458.82 559.47,459.31 562.54,460.25 565.62,461.15 568.69,462.01 571.77,462.83 574.84,463.60 577.92,464.33 580.99,465.02 584.07,465.66 587.14,466.26 590.22,466.81 593.29,467.31 596.36,467.77 599.44,468.18 602.51,468.55 605.59,468.86 608.66,469.14 611.74,469.38 614.81,469.58 617.89,469.75 620.96,469.89 624.03,470.00 627.11,470.09 630.18,470.15 633.26,470.20 636.33,470.24 639.41,470.26 642.48,470.28 645.56,470.29 648.63,470.30 651.70,470.30 654.78,470.32 657.85,470.33 660.93,470.36 664.00,470.40 667.08,470.46 670.15,470.54 673.23,470.64 676.30,470.76 679.38,470.92 682.45,471.10" fill="none" stroke="#1a1a1a" stroke-width="1.2" stroke-linejoin="round"/>
<path d="M393.45,433.28 394.22,430.91 394.98,428.93 395.75,427.04 396.52,424.90 397.29,422.22 398.06,418.70 398.83,414.30 399.60,409.12 400.36,403.24 401.13,396.79 401.90,389.84 402.67,382.51 403.44,374.93 404.21,367.23 404.98,359.57 405.75,352.20 406.51,345.45 407.28,339.63 408.05,335.05 408.82,331.65 409.59,328.75 410.36,325.62 411.13,322.07 411.89,318.75 412.66,315.76 413.43,312.81 414.20,309.73 414.97,306.80 415.74,304.40 416.51,302.53 417.27,300.80 418.04,299.17 418.81,298.17 419.58,298.30 420.35,299.40 421.12,301.15 421.89,303.19 422.65,305.30 423.42,307.47 424.19,309.71 424.96,312.06 425.73,314.51 426.50,317.05 427.27,319.64 428.04,322.23 428.80,324.78 429.57,327.24 430.34,329.57 431.11,331.77 431.88,333.83 432.65,335.78 433.42,337.61 434.18,339.35 434.95,340.99 435.72,342.55 436.49,344.03 437.26,345.47 438.03,346.89 438.80,348.33 439.56,349.80 440.33,351.35 441.10,353.01 441.87,354.79 442.64,356.71 443.41,358.74 444.18,360.86 444.94,363.05 445.71,365.29 446.48,367.55 447.25,369.81 448.02,372.06 448.79,374.29 449.56,376.50 450.33,378.66 451.09,380.78 451.86,382.85 452.63,384.85 453.40,386.79 454.17,388.67 454.94,390.49 455.71,392.27 456.47,394.01 457.24,395.70 458.01,397.36 458.78,398.99 459.55,400.58 460.32,402.13 461.09,403.65 461.85,405.14 462.62,406.59 463.39,408.01 464.16,409.40 464.93,410.75 465.70,412.08 466.47,413.37 467.24,414.63 468.77,417.06 470.31,419.38 471.85,421.58 473.38,423.68 474.92,425.66 476.46,427.54 478.00,429.30 479.53,430.95 481.07,432.49 482.61,433.91 484.14,435.20 485.68,436.37 487.22,437.42 488.76,438.33 490.29,439.12 491.83,439.77 493.37,440.30 494.91,440.72 496.44,441.03 497.98,441.26 499.52,441.41 501.05,441.50 502.59,441.53 504.13,441.52 505.67,441.47 507.20,441.41 508.74,441.33 510.28,441.26 511.82,441.21 513.35,441.17 514.89,441.18 516.43,441.23 517.96,441.35 519.50,441.53 521.04,441.80 522.58,442.15 524.11,442.59 525.65,443.11 527.19,443.70 528.73,444.34 530.26,445.04 531.80,445.78 533.34,446.56 534.87,447.36 536.41,448.19 537.95,449.02 539.49,449.85 541.02,450.68 542.56,451.50 544.10,452.29 545.63,453.06 547.17,453.81 548.71,454.53 550.25,455.23 551.78,455.91 553.32,456.57 554.86,457.20 556.40,457.81 557.93,458.41 559.47,458.98 562.54,460.07 565.62,461.08 568.69,462.01 571.77,462.87 574.84,463.67 577.92,464.40 580.99,465.07 584.07,465.68 587.14,466.24 590.22,466.74 593.29,467.20 596.36,467.61 599.44,467.98 602.51,468.32 605.59,468.62 608.66,468.89 611.74,469.12 614.81,469.33 617.89,469.51 620.96,469.67 624.03,469.80 627.11,469.92 630.18,470.01 633.26,470.09 636.33,470.16 639.41,470.21 642.48,470.26 645.56,470.29 648.63,470.33 651.70,470.35 654.78,470.38 657.85,470.41 660.93,470.44 664.00,470.47 667.08,470.52 670.15,470.57 673.23,470.63 676.30,470.71 679.38,470.80 682.45,470.91" fill="none" stroke="#c82a2a" stroke-width="1.2" stroke-linejoin="round"/>
<path d="M393.45,431.08 394.22,430.22 394.98,428.99 395.75,427.31 396.52,425.08 397.29,422.20 398.06,418.59 398.83,414.23 399.60,409.16 400.36,403.39 401.13,396.97 401.90,389.93 402.67,382.36 403.44,374.58 404.21,366.93 404.98,359.74 405.75,353.28 406.51,347.67 407.28,341.69 408.05,332.83 408.82,324.48 409.59,321.06 410.36,317.32 411.13,312.89 411.89,309.11 412.66,305.50 413.43,301.25 414.20,296.31 414.97,291.56 415.74,287.41 416.51,284.00 417.27,281.50 418.04,280.04 418.81,279.78 419.58,280.74 420.35,282.63 421.12,285.15 421.89,287.97 422.65,290.85 423.42,293.70 424.19,296.45 424.96,299.08 425.73,301.66 426.50,304.21 427.27,306.80 428.04,309.43 428.80,312.09 429.57,314.75 430.34,317.38 431.11,319.97 431.88,322.49 432.65,324.91 433.42,327.21 434.18,329.38 434.95,331.43 435.72,333.42 436.49,335.41 437.26,337.46 438.03,339.63 438.80,341.99 439.56,344.59 440.33,347.42 441.10,350.33 441.87,353.18 442.64,355.87 443.41,358.42 444.18,360.84 444.94,363.17 445.71,365.42 446.48,367.62 447.25,369.79 448.02,371.96 448.79,374.14 449.56,376.33 450.33,378.52 451.09,380.70 451.86,382.89 452.63,385.06 453.40,387.22 454.17,389.36 454.94,391.48 455.71,393.58 456.47,395.64 457.24,397.68 458.01,399.67 458.78,401.63 459.55,403.54 460.32,405.41 461.09,407.22 461.85,408.97 462.62,410.67 463.39,412.31 464.16,413.90 464.93,415.43 465.70,416.92 466.47,418.35 467.24,419.74 468.77,422.37 470.31,424.84 471.85,427.15 473.38,429.30 474.92,431.33 476.46,433.23 478.00,435.02 479.53,436.72 481.07,438.32 482.61,439.81 484.14,441.18 485.68,442.41 487.22,443.50 488.76,444.41 490.29,445.15 491.83,445.70 493.37,446.08 494.91,446.31 496.44,446.41 497.98,446.43 499.52,446.37 501.05,446.26 502.59,446.13 504.13,446.00 505.67,445.90 507.20,445.85 508.74,445.87 510.28,445.94 511.82,446.07 513.35,446.25 514.89,446.48 516.43,446.76 517.96,447.08 519.50,447.43 521.04,447.82 522.58,448.24 524.11,448.69 525.65,449.16 527.19,449.65 528.73,450.15 530.26,450.67 531.80,451.19 533.34,451.72 534.87,452.24 536.41,452.77 537.95,453.29 539.49,453.80 541.02,454.31 542.56,454.82 544.10,455.32 545.63,455.81 547.17,456.30 548.71,456.78 550.25,457.25 551.78,457.72 553.32,458.18 554.86,458.64 556.40,459.09 557.93,459.53 559.47,459.96 562.54,460.81 565.62,461.63 568.69,462.41 571.77,463.16 574.84,463.88 577.92,464.57 580.99,465.21 584.07,465.82 587.14,466.39 590.22,466.92 593.29,467.41 596.36,467.85 599.44,468.25 602.51,468.61 605.59,468.92 608.66,469.20 611.74,469.43 614.81,469.63 617.89,469.80 620.96,469.94 624.03,470.05 627.11,470.14 630.18,470.21 633.26,470.26 636.33,470.30 639.41,470.33 642.48,470.35 645.56,470.36 648.63,470.38 651.70,470.39 654.78,470.40 657.85,470.42 660.93,470.45 664.00,470.49 667.08,470.55 670.15,470.63 673.23,470.72 676.30,470.84 679.38,470.99 682.45,471.16" fill="none" stroke="#2a2ab4" stroke-width="1.2" stroke-linejoin="round"/>
<rect x="375.00" y="247.25" width="307.45" height="224.30" fill="none" stroke="#000" stroke-width="1.8"/>
<path d="M365.80,471.55H375.00M370.00,464.19H375.00M370.00,456.84H375.00M370.00,449.49H375.00M370.00,442.13H375.00M365.80,434.78H375.00M370.00,427.42H375.00M370.00,420.06H375.00M370.00,412.71H375.00M370.00,405.36H375.00M365.80,398.00H375.00M370.00,390.64H375.00M370.00,383.29H375.00M370.00,375.94H375.00M370.00,368.58H375.00M365.80,361.23H375.00M370.00,353.87H375.00M370.00,346.51H375.00M370.00,339.16H375.00M370.00,331.81H375.00M365.80,324.45H375.00M370.00,317.10H375.00M370.00,309.74H375.00M370.00,302.38H375.00M370.00,295.03H375.00M365.80,287.68H375.00M370.00,280.32H375.00M370.00,272.97H375.00M370.00,265.61H375.00M370.00,258.25H375.00M365.80,250.90H375.00M375.00,471.55V480.55M381.15,471.55V476.15M387.30,471.55V476.15M393.45,471.55V476.15M399.60,471.55V476.15M405.75,471.55V480.55M411.89,471.55V476.15M418.04,471.55V476.15M424.19,471.55V476.15M430.34,471.55V476.15M436.49,471.55V480.55M442.64,471.55V476.15M448.79,471.55V476.15M454.94,471.55V476.15M461.09,471.55V476.15M467.24,471.55V480.55M473.38,471.55V476.15M479.53,471.55V476.15M485.68,471.55V476.15M491.83,471.55V476.15M497.98,471.55V480.55M504.13,471.55V476.15M510.28,471.55V476.15M516.43,471.55V476.15M522.58,471.55V476.15M528.73,471.55V480.55M534.87,471.55V476.15M541.02,471.55V476.15M547.17,471.55V476.15M553.32,471.55V476.15M559.47,471.55V480.55M565.62,471.55V476.15M571.77,471.55V476.15M577.92,471.55V476.15M584.07,471.55V476.15M590.22,471.55V480.55M596.36,471.55V476.15M602.51,471.55V476.15M608.66,471.55V476.15M614.81,471.55V476.15M620.96,471.55V480.55M627.11,471.55V476.15M633.26,471.55V476.15M639.41,471.55V476.15M645.56,471.55V476.15M651.70,471.55V480.55M657.85,471.55V476.15M664.00,471.55V476.15M670.15,471.55V476.15M676.30,471.55V476.15M682.45,471.55V480.55" stroke="#000" stroke-width="1.5" fill="none"/>
<path d="M626.30,313.40H668.90" stroke="#000000" stroke-width="1.9"/>
<path d="M626.30,336.50H668.90" stroke="#c42424" stroke-width="1.9"/>
<path d="M626.30,359.50H668.90" stroke="#2020a8" stroke-width="1.9"/></g>
<text transform="translate(49.11,24.60) scale(0.9612,1)" font-size="22.45">(a)</text>
<text transform="translate(117.05,26.20) scale(1.0195,1)" font-size="18.15">Yangmai 16 – 2014</text>
<text transform="translate(296.48,66.69) scale(1.0324,1)" font-size="17.12">WW</text>
<text transform="translate(298.35,89.69) scale(1.0192,1)" font-size="17.75">MD</text>
<text transform="translate(301.22,113.21) scale(1.0950,1)" font-size="16.79">SD</text>
<text transform="translate(30.90,234.48) scale(0.9338,1)" font-size="18.30" text-anchor="end">0</text>
<text transform="translate(30.89,196.71) scale(0.9338,1)" font-size="18.30" text-anchor="end">1</text>
<text transform="translate(30.89,160.93) scale(0.9338,1)" font-size="18.30" text-anchor="end">2</text>
<text transform="translate(30.89,124.16) scale(0.9338,1)" font-size="18.30" text-anchor="end">3</text>
<text transform="translate(30.89,87.38) scale(0.9338,1)" font-size="18.30" text-anchor="end">4</text>
<text transform="translate(30.89,49.61) scale(0.9338,1)" font-size="18.30" text-anchor="end">5</text>
<text transform="translate(30.90,13.83) scale(0.9338,1)" font-size="18.30" text-anchor="end">6</text>
<text transform="translate(13.38,114.01) rotate(-90) scale(1.0664,1)" font-size="17.17" text-anchor="middle">Molar percentage (%)</text>
<text transform="translate(383.17,25.33) scale(0.9817,1)" font-size="22.06">(b)</text>
<text transform="translate(453.73,26.20) scale(1.0104,1)" font-size="18.11">Zhenmai 9 – 2014</text>
<text transform="translate(628.69,66.72) scale(1.0204,1)" font-size="17.17">WW</text>
<text transform="translate(630.63,89.69) scale(1.0148,1)" font-size="17.75">MD</text>
<text transform="translate(633.33,113.21) scale(1.0904,1)" font-size="16.82">SD</text>
<text transform="translate(49.10,267.65) scale(0.9816,1)" font-size="22.11">(c)</text>
<text transform="translate(117.12,269.09) scale(1.0428,1)" font-size="17.79">Yangmai 16 – 2015</text>
<text transform="translate(296.48,309.69) scale(1.0324,1)" font-size="17.12">WW</text>
<text transform="translate(298.35,332.69) scale(1.0192,1)" font-size="17.75">MD</text>
<text transform="translate(301.22,356.21) scale(1.0950,1)" font-size="16.79">SD</text>
<text transform="translate(30.90,477.48) scale(0.9338,1)" font-size="18.30" text-anchor="end">0</text>
<text transform="translate(30.90,439.71) scale(0.9338,1)" font-size="18.30" text-anchor="end">1</text>
<text transform="translate(30.90,403.93) scale(0.9338,1)" font-size="18.30" text-anchor="end">2</text>
<text transform="translate(30.90,367.16) scale(0.9338,1)" font-size="18.30" text-anchor="end">3</text>
<text transform="translate(30.90,330.38) scale(0.9338,1)" font-size="18.30" text-anchor="end">4</text>
<text transform="translate(30.90,292.61) scale(0.9338,1)" font-size="18.30" text-anchor="end">5</text>
<text transform="translate(30.90,256.83) scale(0.9338,1)" font-size="18.30" text-anchor="end">6</text>
<text transform="translate(13.38,357.01) rotate(-90) scale(1.0664,1)" font-size="17.17" text-anchor="middle">Molar percentage (%)</text>
<text transform="translate(42.85,495.92) scale(0.9623,1)" font-size="17.46" text-anchor="middle">0</text>
<text transform="translate(73.59,495.92) scale(0.9623,1)" font-size="17.46" text-anchor="middle">10</text>
<text transform="translate(104.34,495.92) scale(0.9623,1)" font-size="17.46" text-anchor="middle">20</text>
<text transform="translate(135.08,495.92) scale(0.9623,1)" font-size="17.46" text-anchor="middle">30</text>
<text transform="translate(165.83,495.92) scale(0.9623,1)" font-size="17.46" text-anchor="middle">40</text>
<text transform="translate(196.57,495.92) scale(0.9623,1)" font-size="17.46" text-anchor="middle">50</text>
<text transform="translate(227.32,495.92) scale(0.9623,1)" font-size="17.46" text-anchor="middle">60</text>
<text transform="translate(258.06,495.92) scale(0.9623,1)" font-size="17.46" text-anchor="middle">70</text>
<text transform="translate(288.81,495.92) scale(0.9623,1)" font-size="17.46" text-anchor="middle">80</text>
<text transform="translate(319.55,495.92) scale(0.9623,1)" font-size="17.46" text-anchor="middle">90</text>
<text transform="translate(71.88,515.90) scale(0.9856,1)" font-size="18.57">Degree of polymerization (DP)</text>
<text transform="translate(383.11,268.38) scale(0.9833,1)" font-size="21.80">(d)</text>
<text transform="translate(453.71,269.09) scale(1.0301,1)" font-size="17.81">Zhenmai 9 – 2015</text>
<text transform="translate(628.69,309.72) scale(1.0204,1)" font-size="17.17">WW</text>
<text transform="translate(630.63,332.69) scale(1.0148,1)" font-size="17.75">MD</text>
<text transform="translate(633.33,356.21) scale(1.0904,1)" font-size="16.82">SD</text>
<text transform="translate(375.00,495.92) scale(0.9623,1)" font-size="17.46" text-anchor="middle">0</text>
<text transform="translate(405.74,495.92) scale(0.9623,1)" font-size="17.46" text-anchor="middle">10</text>
<text transform="translate(436.49,495.92) scale(0.9623,1)" font-size="17.46" text-anchor="middle">20</text>
<text transform="translate(467.23,495.92) scale(0.9623,1)" font-size="17.46" text-anchor="middle">30</text>
<text transform="translate(497.98,495.92) scale(0.9623,1)" font-size="17.46" text-anchor="middle">40</text>
<text transform="translate(528.72,495.92) scale(0.9623,1)" font-size="17.46" text-anchor="middle">50</text>
<text transform="translate(559.47,495.92) scale(0.9623,1)" font-size="17.46" text-anchor="middle">60</text>
<text transform="translate(590.21,495.92) scale(0.9623,1)" font-size="17.46" text-anchor="middle">70</text>
<text transform="translate(620.96,495.92) scale(0.9623,1)" font-size="17.46" text-anchor="middle">80</text>
<text transform="translate(651.70,495.92) scale(0.9623,1)" font-size="17.46" text-anchor="middle">90</text>
<text transform="translate(403.99,515.90) scale(0.9863,1)" font-size="18.57">Degree of polymerization (DP)</text>
</svg></body></html>
